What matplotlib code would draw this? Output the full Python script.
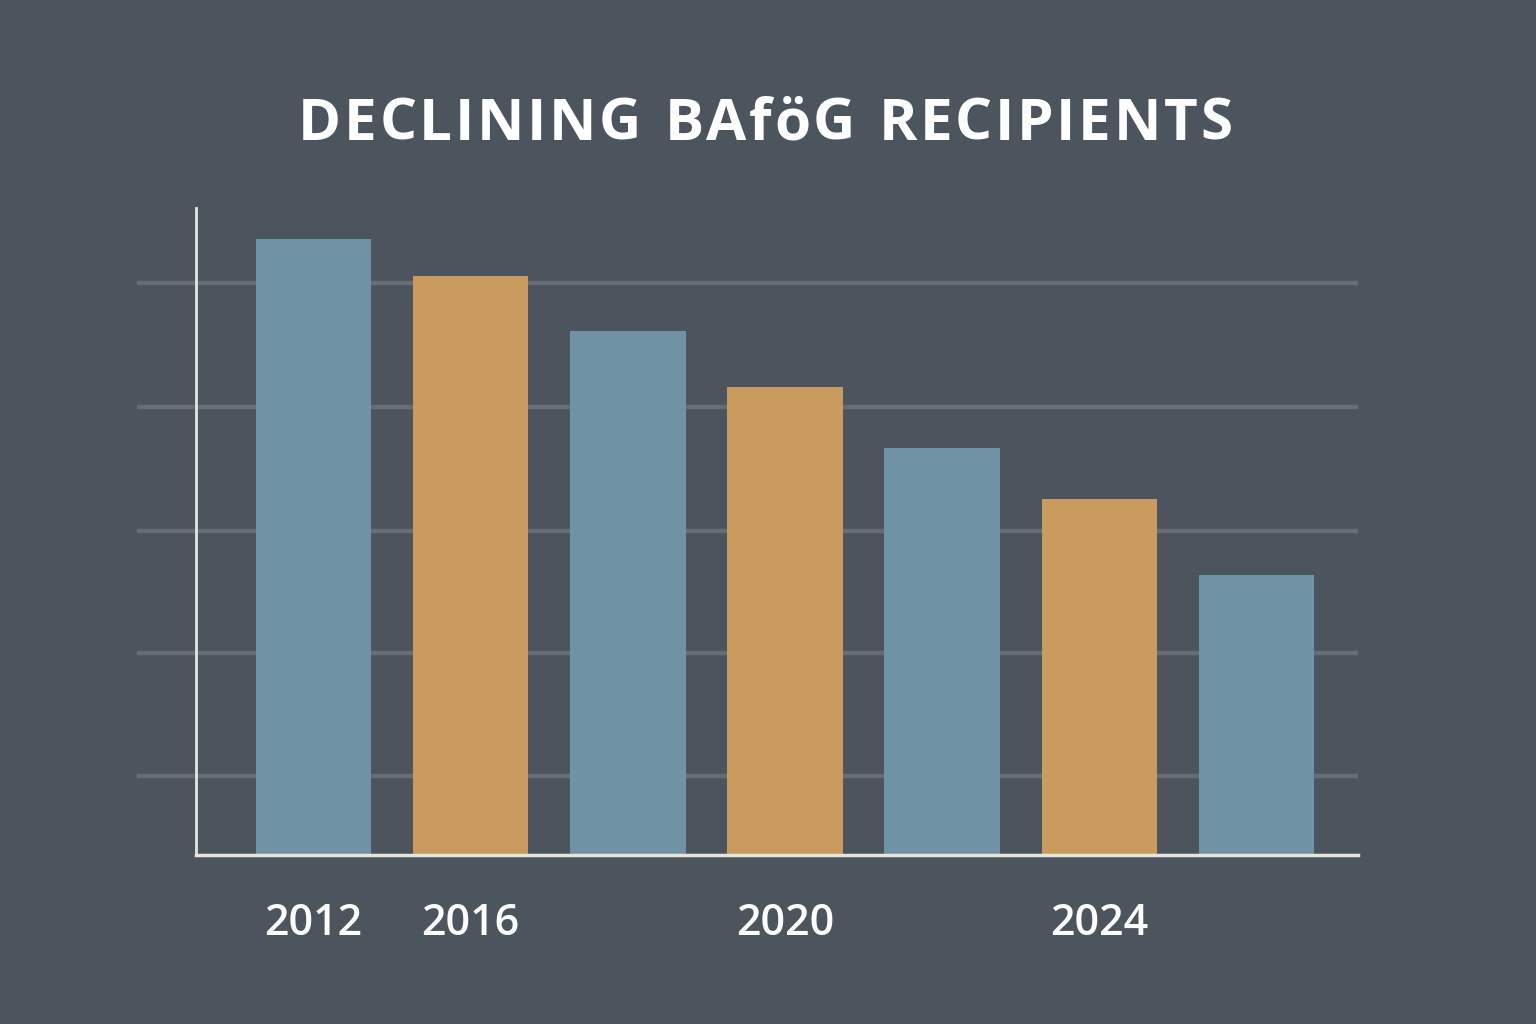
import matplotlib
matplotlib.use("Agg")
import matplotlib.pyplot as plt
import matplotlib.transforms as mtransforms

# bar heights (arbitrary units)
values = [6.16, 5.79, 5.24, 4.68, 4.07, 3.56, 2.80]
bar_colors = ["#6f92a5", "#c99b5f", "#6f92a5", "#c99b5f", "#6f92a5", "#c99b5f", "#6f92a5"]
tick_pos = [0, 1, 3, 5]
tick_labels = ["2012", "2016", "2020", "2024"]
grid_levels = [0.79, 2.02, 3.24, 4.48, 5.72]
title = "DECLINING BAföG RECIPIENTS"

bg = "#4c555d"

fig = plt.figure(figsize=(15.36, 10.24), dpi=100, facecolor=bg)
ax = fig.add_axes([0.1276, 0.165, 0.7565, 0.632])
ax.set_facecolor(bg)

x = list(range(len(values)))
ax.bar(x, values, width=0.735, color=bar_colors, zorder=3)

ax.set_xlim(-0.747, 6.646)
ax.set_ylim(0, 6.47)

# grid lines reach a bit left of the axis
trans = mtransforms.blended_transform_factory(ax.transAxes, ax.transData)
for g in grid_levels:
    ax.plot([-0.051, 1.0], [g, g], transform=trans, color="#656e75", lw=3.2,
            clip_on=False, zorder=1, solid_capstyle="butt")

for side in ["top", "right"]:
    ax.spines[side].set_visible(False)
ax.spines["left"].set_color("#e6e6dd")
ax.spines["bottom"].set_color("#e6e6dd")
ax.spines["left"].set_linewidth(2)
ax.spines["bottom"].set_linewidth(2.5)
ax.spines["bottom"].set_zorder(4)

ax.set_yticks([])
ax.set_xticks(tick_pos)
ax.set_xticklabels(tick_labels, color="white", fontsize=31, family="Open Sans",
                   fontweight="semibold")
ax.tick_params(axis="x", length=0, pad=34)

# title with wide letter spacing: place glyphs one by one
props = dict(color="white", fontsize=42, family="Open Sans", fontweight="bold",
             va="center", ha="left")
renderer = fig.canvas.get_renderer()
widths = []
for ch in title:
    if ch == " ":
        widths.append(18)
    else:
        t = fig.text(0, 0, ch, **props)
        widths.append(t.get_window_extent(renderer).width)
        t.remove()
left_px, right_px = 298, 1232
track = (right_px - left_px - sum(widths)) / (len(title) - 1)
xp = left_px
for ch, w in zip(title, widths):
    if ch != " ":
        fig.text(xp / 1536, 0.878, ch, **props)
    xp += w + track

fig.savefig("out.png", dpi=100, facecolor=bg)
